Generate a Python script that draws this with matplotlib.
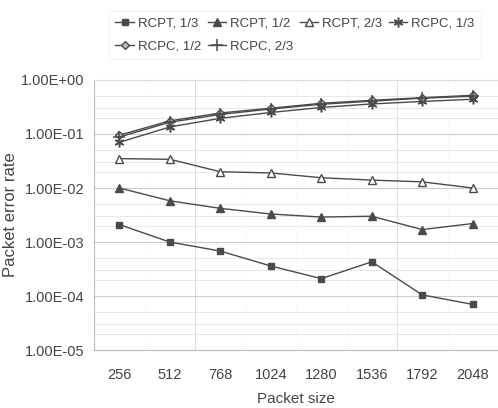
import matplotlib.pyplot as plt
import matplotlib.transforms as mtransforms
from matplotlib.ticker import FixedLocator, LogLocator, NullFormatter
import numpy as np

# Packet sizes (categories) and packet error rates
sizes = ['256', '512', '768', '1024', '1280', '1536', '1792', '2048']
rcpt_13 = [2.1e-3, 1.0e-3, 6.8e-4, 3.6e-4, 2.1e-4, 4.3e-4, 1.05e-4, 7.0e-5]
rcpt_12 = [1.0e-2, 5.8e-3, 4.2e-3, 3.3e-3, 2.9e-3, 3.0e-3, 1.7e-3, 2.2e-3]
rcpt_23 = [3.5e-2, 3.4e-2, 2.0e-2, 1.9e-2, 1.55e-2, 1.4e-2, 1.3e-2, 1.0e-2]
rcpc_13 = [0.070, 0.135, 0.195, 0.25, 0.31, 0.36, 0.40, 0.44]
rcpc_12 = [0.095, 0.175, 0.245, 0.30, 0.37, 0.42, 0.47, 0.52]
rcpc_23 = [0.088, 0.165, 0.230, 0.29, 0.355, 0.405, 0.46, 0.50]
labels = ['RCPT, 1/3', 'RCPT, 1/2', 'RCPT, 2/3', 'RCPC, 1/3', 'RCPC, 1/2', 'RCPC, 2/3']

plt.rcParams['font.family'] = ['Liberation Sans', 'DejaVu Sans']
txt = '#444444'
ln = '#4a4a4a'

fig = plt.figure(figsize=(4.98, 4.08), dpi=100)
ax = fig.add_axes([0.189, 0.142, 0.811, 0.662])

x = np.arange(len(sizes))
series = [rcpt_13, rcpt_12, rcpt_23, rcpc_13, rcpc_12, rcpc_23]
styles = [
    dict(marker='s', ms=5, mfc=ln, mec=ln),
    dict(marker='^', ms=5.5, mfc=ln, mec=ln),
    dict(marker='^', ms=6, mfc='white', mec=ln),
    dict(marker=(6, 2, 0), ms=7, mfc=ln, mec=ln, mew=1.1),
    dict(marker='D', ms=4.5, mfc='#bbbbbb', mec=ln),
    dict(marker='+', ms=8, mfc=ln, mec=ln, mew=1.1),
]
handles = []
for ys, lab, st in zip(series, labels, styles):
    h, = ax.plot(x, ys, color=ln, lw=1.0, label=lab, **st)
    handles.append(h)

ax.set_yscale('log')
ax.set_ylim(1e-5, 1)
ax.set_xlim(-0.5, len(sizes) - 0.5)
ax.set_xticks(x)
ax.set_xticklabels(sizes)
ax.yaxis.set_major_locator(FixedLocator([1e-5, 1e-4, 1e-3, 1e-2, 1e-1, 1]))
ax.set_yticklabels(['1.00E-05', '1.00E-04', '1.00E-03', '1.00E-02', '1.00E-01', '1.00E+00'])
ax.yaxis.set_minor_locator(LogLocator(base=10, subs=[2, 3, 5], numticks=20))
ax.yaxis.set_minor_formatter(NullFormatter())
ax.tick_params(axis='both', which='both', length=0, labelsize=10.5, colors=txt)
ax.tick_params(axis='y', pad=7)
ax.tick_params(axis='x', pad=13)

ax.grid(True, axis='y', which='major', color='#cccccc', lw=0.8)
ax.grid(True, axis='y', which='minor', color='#e4e4e4', lw=0.6)
for b in [1.5, 5.5]:
    ax.axvline(b, color='#dddddd', lw=0.7, zorder=0)
for b in [-0.5 + i for i in range(1, 8)]:
    if b not in (1.5, 5.5):
        ax.axvline(b, color='#eeeeee', lw=0.5, ls=':', zorder=0)
for s in ax.spines.values():
    s.set_color('#bbbbbb')
    s.set_linewidth(0.8)
ax.spines['right'].set_visible(False)
ax.spines['top'].set_color('#dddddd')

ax.set_xlabel('Packet size', fontsize=11, color=txt, labelpad=7)
yl = ax.set_ylabel('Packet error rate', fontsize=12, color=txt, labelpad=2)
# the label is cut off at its top in the original
yl.set_clip_box(mtransforms.Bbox.from_extents(0, 0, 498, 258))
yl.set_clip_on(True)

# row-major order in a 4-column legend
order = [0, 4, 1, 5, 2, 3]
leg = fig.legend([handles[i] for i in order], [labels[i] for i in order],
                 loc='upper left', bbox_to_anchor=(0.205, 0.99), ncol=4,
                 fontsize=9.5, frameon=True, handlelength=1.4, handletextpad=0.3,
                 columnspacing=0.5, borderpad=0.5, labelspacing=0.8)
leg.get_frame().set_edgecolor('#eeeeee')
leg.get_frame().set_linewidth(0.6)
for t in leg.get_texts():
    t.set_color(txt)

fig.savefig('out.png', dpi=100)
